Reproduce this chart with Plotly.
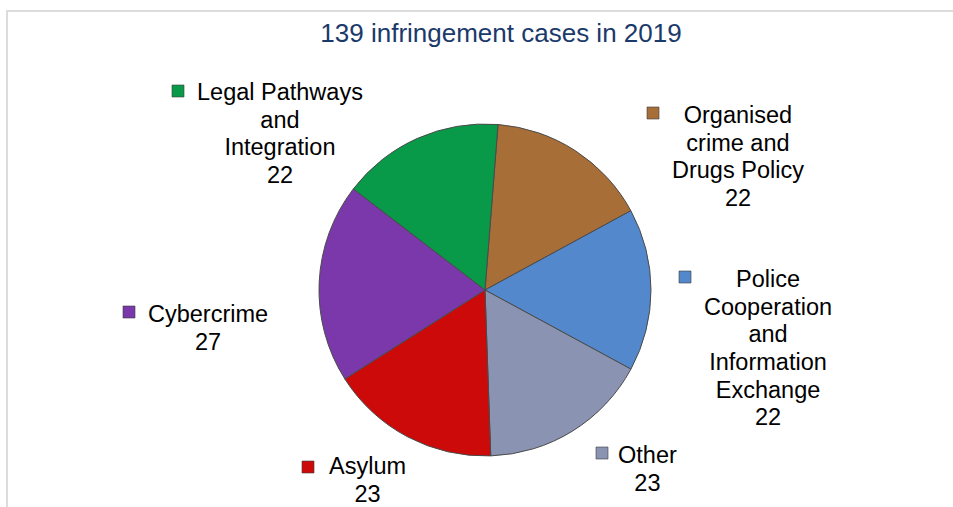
import plotly.graph_objects as go

# ---- data ----
categories = ["Organised crime and Drugs Policy", "Police Cooperation and Information Exchange",
              "Other", "Asylum", "Cybercrime", "Legal Pathways and Integration"]
values = [22, 22, 23, 23, 27, 22]
label_lines = [["Organised", "crime and", "Drugs Policy"],
               ["Police", "Cooperation", "and", "Information", "Exchange"],
               ["Other"],
               ["Asylum"],
               ["Cybercrime"],
               ["Legal Pathways", "and", "Integration"]]
colors = ["#A86E38", "#5388CC", "#8A94B2", "#CC0A0A", "#7A38AA", "#089A48"]
title_text = f"{sum(values)} infringement cases in 2019"

# ---- layout helpers (pixel positions) ----
W, H = 953, 507
cx, cy, r = 485, 290, 166
label_pos = [(738, 156.5), (768, 347.5), (647, 469), (367, 480), (208, 327.5), (280, 133.5)]
marker_pos = [(653, 113), (685, 277), (602, 453), (308, 467), (129, 312), (178, 91)]

def px(x):
    return x / W

def py(y):
    return 1 - y / H

fig = go.Figure(go.Pie(
    labels=categories, values=values, sort=False, direction="clockwise", rotation=4.5,
    marker=dict(colors=colors, line=dict(color="#4a4a4a", width=1)),
    textinfo="none", hoverinfo="label+value", showlegend=False,
    domain=dict(x=[px(cx - r), px(cx + r)], y=[py(cy + r), py(cy - r)]),
))

annotations = []
shapes = []
for lines, v, (lx, ly), (mx, my), col in zip(label_lines, values, label_pos, marker_pos, colors):
    txt = "<br>".join(f'<span style="font-size:23.5px">{s}</span>' for s in lines + [str(v)])
    annotations.append(dict(x=px(lx), y=py(ly), xref="paper", yref="paper", text=txt,
                            showarrow=False, xanchor="center", yanchor="middle", align="center",
                            font=dict(family="Liberation Sans, Arial", size=21.3, color="#000000")))
    s = 6
    shapes.append(dict(type="rect", xref="paper", yref="paper",
                       x0=px(mx - s), x1=px(mx + s), y0=py(my + s), y1=py(my - s),
                       fillcolor=col, line=dict(color="rgba(60,60,60,0.6)", width=1)))

# chart frame
shapes.append(dict(type="rect", xref="paper", yref="paper", x0=px(7), x1=px(W + 20),
                   y0=py(H + 20), y1=py(11), line=dict(color="#DCDCDC", width=2),
                   fillcolor="rgba(0,0,0,0)", layer="below"))

fig.update_layout(
    width=W, height=H, autosize=False,
    margin=dict(l=0, r=0, t=0, b=0),
    paper_bgcolor="white", plot_bgcolor="white",
    title=dict(text=title_text, x=px(501), y=py(33), xanchor="center", yanchor="middle",
               xref="paper", yref="paper",
               font=dict(family="Liberation Sans, Arial", size=26, color="#1B3A6B")),
    annotations=annotations, shapes=shapes,
)

fig.write_html("out.html", config={"displayModeBar": False},
               post_script="document.body.style.margin='0';document.body.style.overflow='hidden';")
